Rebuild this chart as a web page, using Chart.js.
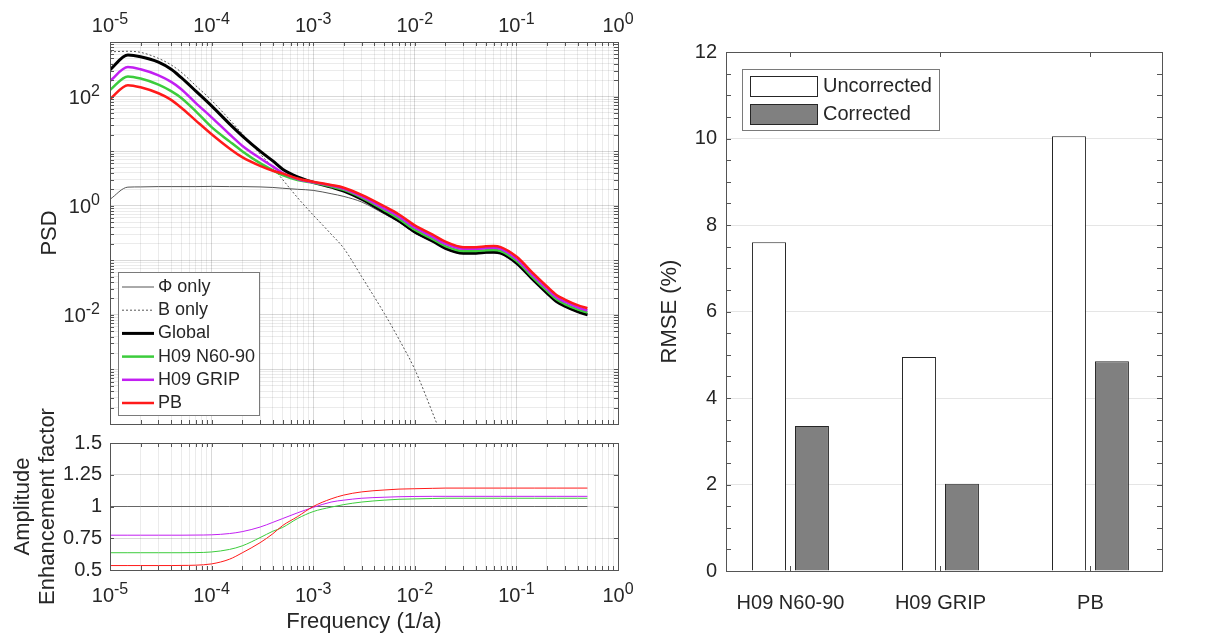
<!DOCTYPE html>
<html>
<head>
<meta charset="utf-8">
<script src="https://cdn.jsdelivr.net/npm/chart.js@4.4.0/dist/chart.umd.min.js"></script>
<style>
  html, body { margin: 0; padding: 0; background: #fff; }
  #wrap { position: relative; width: 1218px; height: 637px; overflow: hidden; }
  canvas { position: absolute; top: 0; }
</style>
</head>
<body>
<div id="wrap">
  <canvas id="psdChart" width="640" height="637" style="left:0"></canvas>
  <canvas id="ampChart" width="640" height="637" style="left:0"></canvas>
  <canvas id="rmseChart" width="578" height="637" style="left:640px"></canvas>
</div>
<script>
// ==== data ====
const freq = [1e-5, 1.5e-5, 2e-5, 3e-5, 4e-5, 5e-5, 7e-5, 1e-4, 1.5e-4, 2e-4, 3e-4, 4e-4, 5e-4, 7e-4,
  1e-3, 1.5e-3, 2e-3, 3e-3, 5e-3, 7e-3, 1e-2, 1.5e-2, 2e-2, 3e-2, 4e-2, 5e-2, 6e-2, 7e-2,
  0.1, 0.15, 0.2, 0.25, 0.3, 0.4, 0.5];

// PSD (top left)
const psdPhi = [1.31, 2.19, 2.21, 2.24, 2.24, 2.24, 2.24, 2.26, 2.24, 2.24, 2.21, 2.16, 2.09, 2.00,
  1.91, 1.66, 1.48, 1.17, 0.708, 0.501, 0.316, 0.219, 0.162, 0.132, 0.132, 0.136, 0.138, 0.132,
  0.0871, 0.0407, 0.0245, 0.0170, 0.0141, 0.0112, 0.00977];
const psdB = [661, 676, 646, 501, 380, 282, 158, 85.1, 38.0, 20.9, 8.91, 5.01, 3.02, 1.41,
  0.676, 0.302, 0.166, 0.0501, 0.0107, 0.00355, 0.001, 0.000158, 0.0000398, null, null, null, null, null,
  null, null, null, null, null, null, null];
const psdGlobal = [309, 575, 537, 427, 316, 224, 126, 67.6, 31.6, 19.1, 10.0, 6.61, 4.68, 3.39,
  2.69, 2.19, 1.86, 1.32, 0.759, 0.525, 0.331, 0.224, 0.166, 0.135, 0.135, 0.140, 0.141, 0.135,
  0.0891, 0.0417, 0.0251, 0.0174, 0.0145, 0.0115, 0.0100];
const psdN6090 = [132, 234, 214, 166, 126, 95.5, 53.7, 27.5, 15.1, 10.0, 6.03, 4.47, 3.63, 2.95,
  2.63, 2.24, 1.95, 1.41, 0.832, 0.575, 0.363, 0.245, 0.182, 0.148, 0.148, 0.153, 0.155, 0.148,
  0.0977, 0.0457, 0.0275, 0.0191, 0.0158, 0.0126, 0.0110];
const psdGRIP = [193, 347, 316, 245, 186, 138, 75.9, 41.7, 20.4, 12.6, 7.41, 5.25, 3.98, 3.09,
  2.69, 2.34, 2.04, 1.48, 0.891, 0.631, 0.398, 0.269, 0.200, 0.162, 0.162, 0.168, 0.170, 0.162,
  0.107, 0.0501, 0.0302, 0.0209, 0.0174, 0.0138, 0.0120];
const psdPB = [90.2, 162, 148, 115, 87.1, 63.1, 36.3, 20.4, 11.2, 7.76, 5.37, 4.37, 3.89, 3.16,
  2.75, 2.40, 2.14, 1.58, 0.977, 0.692, 0.437, 0.295, 0.219, 0.174, 0.174, 0.180, 0.182, 0.174,
  0.117, 0.0550, 0.0331, 0.0229, 0.0191, 0.0151, 0.0132];

// amplitude enhancement factor (bottom left)
const ampGlobal = [1, 1, 1, 1, 1, 1, 1, 1, 1, 1, 1, 1, 1, 1, 1, 1, 1, 1, 1, 1, 1, 1, 1, 1, 1, 1, 1, 1,
  1, 1, 1, 1, 1, 1, 1];
const ampN6090 = [0.636, 0.636, 0.636, 0.636, 0.636, 0.636, 0.637, 0.642, 0.662, 0.69, 0.755, 0.805, 0.835, 0.905,
  0.96, 0.995, 1.015, 1.035, 1.05, 1.057, 1.06, 1.063, 1.065, 1.065, 1.065, 1.065, 1.065, 1.065,
  1.065, 1.065, 1.065, 1.065, 1.065, 1.065, 1.065];
const ampGRIP = [0.774, 0.774, 0.774, 0.774, 0.774, 0.774, 0.775, 0.777, 0.787, 0.802, 0.838, 0.875, 0.905, 0.95,
  0.993, 1.035, 1.05, 1.065, 1.073, 1.077, 1.079, 1.08, 1.08, 1.08, 1.08, 1.08, 1.08, 1.08,
  1.08, 1.08, 1.08, 1.08, 1.08, 1.08, 1.08];
const ampPB = [0.535, 0.535, 0.535, 0.535, 0.535, 0.536, 0.538, 0.548, 0.585, 0.635, 0.715, 0.785, 0.85, 0.92,
  1.0, 1.06, 1.09, 1.115, 1.13, 1.137, 1.14, 1.143, 1.145, 1.145, 1.145, 1.145, 1.145, 1.145,
  1.145, 1.145, 1.145, 1.145, 1.145, 1.145, 1.145];

// RMSE bars (right)
const regions = ['H09 N60-90', 'H09 GRIP', 'PB'];
const rmseUncorrected = [7.6, 4.95, 10.05];
const rmseCorrected = [3.35, 2.02, 4.85];

// tick labels
const freqLabelExps = [-5, -4, -3, -2, -1, 0];
const psdLabelExps = [-2, 0, 2];
const ampTicks = [0.5, 0.75, 1, 1.25, 1.5];
const rmseStep = 2;

// ==== style ====
const TXT = '#262626';
const EDGE = '#555555';
const GRID_MAJOR = 'rgba(0,0,0,0.15)';
const GRID_MINOR = 'rgba(0,0,0,0.08)';
const GREEN = '#3ccc3c';
const MAGENTA = '#c21ff2';
const RED = '#ff1a1a';
const FONT = "'Liberation Sans', Arial, Helvetica, sans-serif";

Chart.defaults.font.family = FONT;
Chart.defaults.color = TXT;

// ==== helpers ====
function exp10(v) {
  const e = Math.log10(v);
  const r = Math.round(e);
  return Math.abs(e - r) < 1e-6 ? r : null;
}
function logTicks(e0, e1) {
  const t = [];
  for (let e = e0; e < e1; e++) {
    for (let m = 1; m < 10; m++) t.push({ value: m * Math.pow(10, e) });
  }
  t.push({ value: Math.pow(10, e1) });
  return t;
}
const logGrid = c => (c.tick && exp10(c.tick.value) !== null) ? GRID_MAJOR : GRID_MINOR;

// box round the plot area plus inward tick marks (MATLAB style)
const framePlugin = {
  id: 'frame',
  afterDatasetsDraw(chart, args, o) {
    const { ctx, chartArea: a } = chart;
    ctx.save();
    ctx.strokeStyle = EDGE;
    ctx.lineWidth = 1;
    ctx.beginPath();
    ['x', 'y'].forEach(id => {
      const sc = chart.scales[id];
      const step = o[id + 'Step'];
      let vals = sc.ticks.map(t => t.value);
      if (step) {
        vals = [];
        for (let v = sc.min; v <= sc.max + 1e-9; v += step) vals.push(v);
      }
      vals.forEach(v => {
        const p = Math.round(sc.getPixelForValue(v)) + 0.5;
        if (id === 'x') {
          ctx.moveTo(p, a.top); ctx.lineTo(p, a.top + o.len);
          ctx.moveTo(p, a.bottom); ctx.lineTo(p, a.bottom - o.len);
        } else {
          ctx.moveTo(a.left, p); ctx.lineTo(a.left + o.len, p);
          ctx.moveTo(a.right, p); ctx.lineTo(a.right - o.len, p);
        }
      });
    });
    ctx.stroke();
    ctx.strokeRect(Math.round(a.left) + 0.5, Math.round(a.top) + 0.5,
      Math.round(a.right - a.left), Math.round(a.bottom - a.top));
    ctx.restore();
  }
};

// "10" with a raised exponent at the decade ticks of a log axis
const supLabels = {
  id: 'supLabels',
  afterDraw(chart, args, o) {
    const ctx = chart.ctx;
    ctx.save();
    ctx.fillStyle = TXT;
    ctx.textBaseline = 'alphabetic';
    ctx.textAlign = 'left';
    (o.axes || []).forEach(ax => {
      const sc = chart.scales[ax.id];
      sc.ticks.forEach(t => {
        const e = exp10(t.value);
        if (e === null || !ax.exps.includes(e)) return;
        const sup = String(e);
        ctx.font = '20px ' + FONT;
        const wb = ctx.measureText('10').width;
        ctx.font = '16px ' + FONT;
        const ws = ctx.measureText(sup).width;
        const p = sc.getPixelForValue(t.value);
        let x, y;
        if (ax.id === 'x') { x = p - (wb + ws) / 2; y = ax.baseline; }
        else { x = ax.right - wb - ws; y = p + 7; }
        ctx.font = '20px ' + FONT;
        ctx.fillText('10', x, y);
        ctx.font = '16px ' + FONT;
        ctx.fillText(sup, x + wb, y - 8);
      });
    });
    ctx.restore();
  }
};

// legend drawn inside the axes
const boxLegend = {
  id: 'boxLegend',
  afterDraw(chart, args, o) {
    if (!o.show) return;
    const ctx = chart.ctx;
    ctx.save();
    ctx.fillStyle = '#fff';
    ctx.fillRect(o.boxX, o.boxY, o.boxW, o.boxH);
    ctx.strokeStyle = '#7a7a7a';
    ctx.lineWidth = 1;
    ctx.strokeRect(o.boxX + 0.5, o.boxY + 0.5, o.boxW, o.boxH);
    ctx.font = o.fontSize + 'px ' + FONT;
    ctx.textBaseline = 'middle';
    chart.data.datasets.forEach((ds, i) => {
      const y = o.rowY + i * o.rowH;
      if (o.kind === 'line') {
        ctx.strokeStyle = ds.borderColor;
        ctx.lineWidth = ds.borderWidth;
        ctx.setLineDash(ds.borderDash || []);
        ctx.beginPath();
        ctx.moveTo(o.symX, y);
        ctx.lineTo(o.symX + o.symW, y);
        ctx.stroke();
        ctx.setLineDash([]);
      } else {
        ctx.fillStyle = ds.backgroundColor;
        ctx.fillRect(o.symX, y - o.symH / 2, o.symW, o.symH);
        ctx.strokeStyle = ds.borderColor;
        ctx.lineWidth = 1;
        ctx.strokeRect(o.symX + 0.5, y - o.symH / 2 + 0.5, o.symW, o.symH);
      }
      ctx.fillStyle = TXT;
      ctx.fillText(ds.label, o.textX, y);
    });
    ctx.restore();
  }
};

// ==== PSD chart (top left) ====
new Chart(document.getElementById('psdChart'), {
  type: 'line',
  data: {
    labels: freq,
    datasets: [
      { label: '\u03A6 only', data: psdPhi, borderColor: '#555555', borderWidth: 1, order: 5 },
      { label: 'B only', data: psdB, borderColor: '#555555', borderWidth: 1, borderDash: [2, 2], order: 4 },
      { label: 'Global', data: psdGlobal, borderColor: '#000000', borderWidth: 3, order: 3 },
      { label: 'H09 N60-90', data: psdN6090, borderColor: GREEN, borderWidth: 2.5, order: 2 },
      { label: 'H09 GRIP', data: psdGRIP, borderColor: MAGENTA, borderWidth: 2.5, order: 1 },
      { label: 'PB', data: psdPB, borderColor: RED, borderWidth: 2.5, order: 0 }
    ]
  },
  options: {
    responsive: false,
    animation: false,
    events: [],
    layout: { padding: { left: 0, right: 22, top: 0, bottom: 213 } },
    elements: { point: { radius: 0 }, line: { cubicInterpolationMode: 'monotone', fill: false } },
    plugins: {
      legend: { display: false },
      tooltip: { enabled: false },
      frame: { len: 4 },
      supLabels: { axes: [
        { id: 'x', exps: freqLabelExps, baseline: 32 },
        { id: 'y', exps: psdLabelExps, right: 100 }
      ] },
      boxLegend: { show: true, kind: 'line', boxX: 118, boxY: 272, boxW: 141, boxH: 143,
        rowY: 287, rowH: 23.2, symX: 122, symW: 32, textX: 158, fontSize: 18 }
    },
    scales: {
      x: {
        type: 'logarithmic', position: 'top', min: 1e-5, max: 1,
        afterBuildTicks: s => { s.ticks = logTicks(-5, 0); },
        afterFit: s => { s.height = 42; },
        ticks: { display: false, autoSkip: false },
        grid: { drawTicks: false, color: logGrid },
        border: { display: false }
      },
      y: {
        type: 'logarithmic', min: 1e-4, max: 1e3,
        afterBuildTicks: s => { s.ticks = logTicks(-4, 3); },
        afterFit: s => { s.width = 110; },
        ticks: { display: false, autoSkip: false },
        grid: { drawTicks: false, color: logGrid },
        border: { display: false },
        title: { display: true, text: 'PSD', font: { size: 22 }, color: TXT, padding: { top: 37, bottom: 0 } }
      }
    }
  },
  plugins: [framePlugin, supLabels, boxLegend]
});

// ==== amplitude enhancement factor (bottom left) ====
new Chart(document.getElementById('ampChart'), {
  type: 'line',
  data: {
    labels: freq,
    datasets: [
      { label: 'Global', data: ampGlobal, borderColor: '#666666', borderWidth: 1, order: 3 },
      { label: 'H09 N60-90', data: ampN6090, borderColor: GREEN, borderWidth: 1, order: 2 },
      { label: 'H09 GRIP', data: ampGRIP, borderColor: MAGENTA, borderWidth: 1, order: 1 },
      { label: 'PB', data: ampPB, borderColor: RED, borderWidth: 1, order: 0 }
    ]
  },
  options: {
    responsive: false,
    animation: false,
    events: [],
    layout: { padding: { left: 0, right: 22, top: 443, bottom: 0 } },
    elements: { point: { radius: 0 }, line: { cubicInterpolationMode: 'monotone', fill: false } },
    plugins: {
      legend: { display: false },
      tooltip: { enabled: false },
      frame: { len: 4 },
      supLabels: { axes: [{ id: 'x', exps: freqLabelExps, baseline: 602 }] }
    },
    scales: {
      x: {
        type: 'logarithmic', position: 'bottom', min: 1e-5, max: 1,
        afterBuildTicks: s => { s.ticks = logTicks(-5, 0); },
        afterFit: s => { s.height = 67; },
        ticks: { display: false, autoSkip: false },
        grid: { drawTicks: false, color: logGrid },
        border: { display: false },
        title: { display: true, text: 'Frequency (1/a)', font: { size: 22 }, color: TXT, padding: { top: 0, bottom: 2 } }
      },
      y: {
        type: 'linear', min: 0.5, max: 1.5,
        afterBuildTicks: s => { s.ticks = ampTicks.map(v => ({ value: v })); },
        afterFit: s => { s.width = 110; },
        ticks: { autoSkip: false, padding: 8, font: { size: 20 }, color: TXT, callback: v => String(v) },
        grid: { drawTicks: false, color: GRID_MAJOR },
        border: { display: false },
        title: { display: true, text: ['Amplitude', 'Enhancement factor'], font: { size: 22, lineHeight: 1.15 },
          color: TXT, padding: { top: 10, bottom: 0 } }
      }
    }
  },
  plugins: [framePlugin, supLabels]
});

// ==== RMSE bars (right) ====
new Chart(document.getElementById('rmseChart'), {
  type: 'bar',
  data: {
    labels: regions.map((r, i) => i + 1),
    datasets: [
      { label: 'Uncorrected', data: rmseUncorrected, backgroundColor: '#ffffff', borderColor: '#262626', borderWidth: 1 },
      { label: 'Corrected', data: rmseCorrected, backgroundColor: '#808080', borderColor: '#262626', borderWidth: 1 }
    ]
  },
  options: {
    responsive: false,
    animation: false,
    events: [],
    layout: { padding: { left: 0, right: 56, top: 52, bottom: 0 } },
    datasets: { bar: { categoryPercentage: 0.573, barPercentage: 0.79 } },
    plugins: {
      legend: { display: false },
      tooltip: { enabled: false },
      frame: { len: 5, yStep: 0.5 },
      boxLegend: { show: true, kind: 'box', boxX: 102, boxY: 69, boxW: 197, boxH: 61,
        rowY: 86, rowH: 28, symX: 110, symW: 67, symH: 20, textX: 183, fontSize: 20 }
    },
    scales: {
      x: {
        type: 'linear', min: 0.57, max: 3.477, offset: false,
        afterBuildTicks: s => { s.ticks = regions.map((r, i) => ({ value: i + 1 })); },
        afterFit: s => { s.height = 66; },
        ticks: { autoSkip: false, maxRotation: 0, padding: 12, font: { size: 20 }, color: TXT,
          callback: v => regions[Math.round(v) - 1] || '' },
        grid: { display: false },
        border: { display: false }
      },
      y: {
        type: 'linear', min: 0, max: 12,
        afterFit: s => { s.width = 86; },
        ticks: { stepSize: rmseStep, padding: 9, font: { size: 20 }, color: TXT },
        grid: { drawTicks: false, color: 'rgba(0,0,0,0.1)' },
        border: { display: false },
        title: { display: true, text: 'RMSE (%)', font: { size: 22 }, color: TXT, padding: { top: 17, bottom: 0 } }
      }
    }
  },
  plugins: [framePlugin, boxLegend]
});
</script>
</body>
</html>
